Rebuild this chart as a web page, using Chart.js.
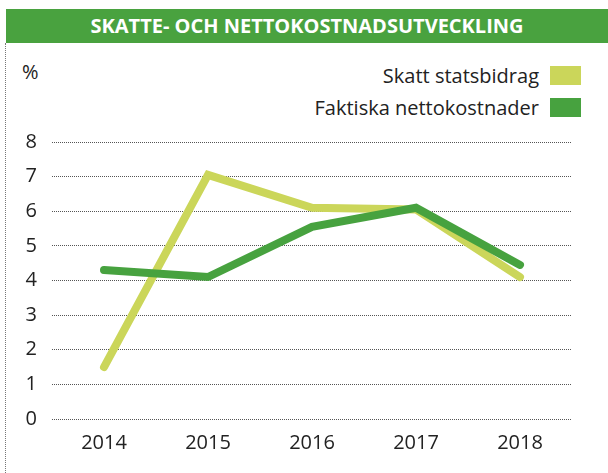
<!DOCTYPE html>
<html>
<head>
<meta charset="utf-8">
<script src="https://cdn.jsdelivr.net/npm/chart.js@4"></script>
<style>
  body { margin: 0; background: #fff; }
  #wrap { position: relative; width: 608px; height: 473px; font-family: "Open Sans", "Noto Sans", sans-serif; color: #222; }
  #title { position: absolute; left: 6px; top: 9px; width: 602px; height: 34px; background: #49a23f; color: #fff;
           font-weight: bold; font-size: 20px; line-height: 34px; text-align: center; }
  #frame { position: absolute; left: 5px; top: 43px; width: 0; height: 430px; border-left: 1px dotted #777; }
  #unit { position: absolute; left: 22px; top: 58px; font-size: 20px; }
  #legend { position: absolute; right: 27px; top: 59px; font-size: 20px; }
  .item { display: flex; align-items: center; justify-content: flex-end; height: 32px; }
  .box { display: inline-block; width: 31px; height: 19px; margin-left: 11px; }
  canvas { position: absolute; left: 0; top: 0; }
</style>
</head>
<body>
<div id="wrap">
  <div id="title">SKATTE- OCH NETTOKOSTNADSUTVECKLING</div>
  <div id="frame"></div>
  <div id="unit">%</div>
  <div id="legend"></div>
  <canvas id="chart" width="608" height="473"></canvas>
</div>
<script>
let years = ["2014", "2015", "2016", "2017", "2018"];
let skattStatsbidrag = [1.5, 7.05, 6.1, 6.05, 4.1];
let nettokostnader = [4.3, 4.1, 5.55, 6.1, 4.45];
let seriesNames = ["Skatt statsbidrag", "Faktiska nettokostnader"];
let seriesColors = ["#cbd65a", "#47a23f"];

// legend as html, text left of the box
let legend = document.getElementById("legend");
seriesNames.forEach((name, i) => {
  let row = document.createElement("div");
  row.className = "item";
  row.innerHTML = '<span>' + name + '</span><span class="box" style="background:' + seriesColors[i] + '"></span>';
  legend.appendChild(row);
});

let font = { family: '"Open Sans", "Noto Sans", sans-serif', size: 20 };

let chart = new Chart(document.getElementById("chart"), {
  type: 'line',
  data: {
    labels: years,
    datasets: [
      {
        label: seriesNames[0],
        data: skattStatsbidrag,
        borderColor: seriesColors[0],
        borderWidth: 8,
        borderCapStyle: 'round',
        pointRadius: 0,
        tension: 0,
        order: 1
      },
      {
        label: seriesNames[1],
        data: nettokostnader,
        borderColor: seriesColors[1],
        borderWidth: 8,
        borderCapStyle: 'round',
        pointRadius: 0,
        tension: 0,
        order: 0
      }
    ]
  },
  options: {
    responsive: false,
    animation: false,
    layout: { padding: { left: 0, top: 142, right: 36, bottom: 0 } },
    plugins: {
      legend: { display: false },
      tooltip: { enabled: false }
    },
    scales: {
      x: {
        offset: true,
        grid: { display: false },
        border: { display: false },
        ticks: { color: '#222', font: font, padding: 4 },
        afterFit: (scale) => { scale.height = 54; }
      },
      y: {
        min: 0,
        max: 8,
        ticks: { stepSize: 1, color: '#222', font: font, padding: 15 },
        grid: { color: '#555', lineWidth: 1, drawTicks: false },
        border: { display: false, dash: [1, 1] },
        afterFit: (scale) => { scale.width = 52; }
      }
    }
  }
});
</script>
</body>
</html>
